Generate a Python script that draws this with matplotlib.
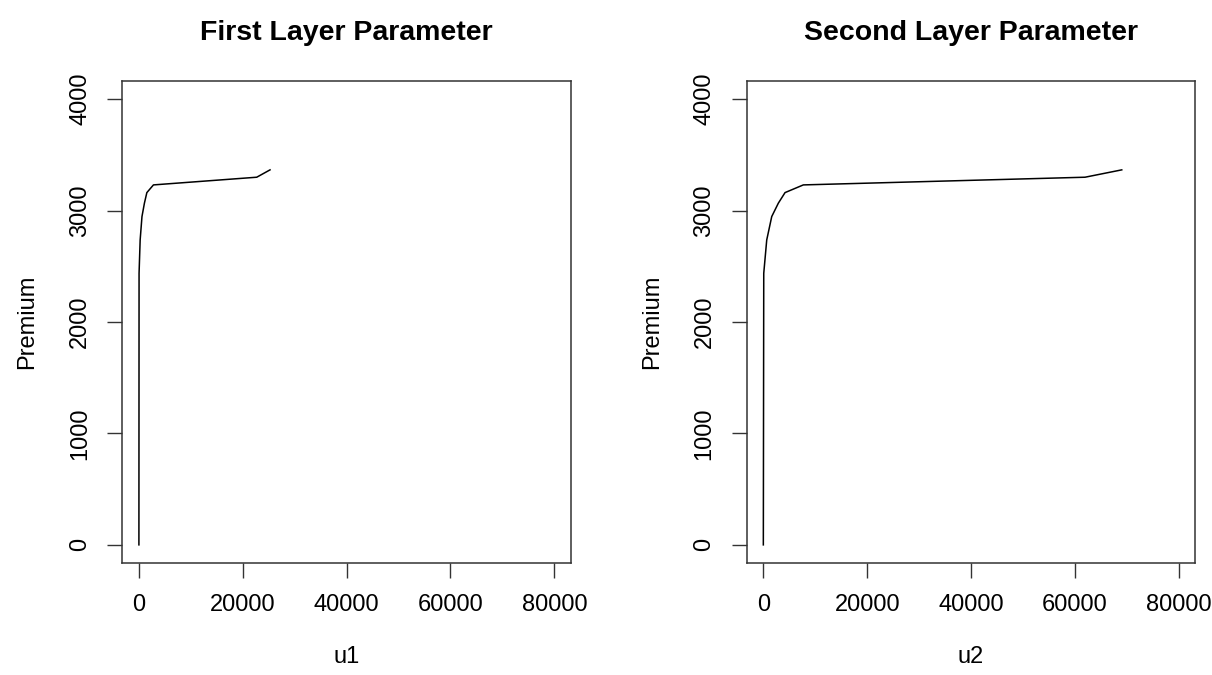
import numpy as np
import matplotlib.pyplot as plt

# premium against the layer parameter
premium = [0, 2437, 2736, 2946, 3066, 3161, 3230, 3299, 3365]
u1 = [0, 30, 240, 590, 1060, 1530, 2800, 22690, 25250]
u2 = [0, 80, 655, 1618, 2889, 4180, 7704, 61950, 69020]

xticks = [0, 20000, 40000, 60000, 80000]
yticks = [0, 1000, 2000, 3000, 4000]

plt.rcParams['font.family'] = ['Liberation Sans', 'DejaVu Sans']
plt.rcParams['font.size'] = 17

fig = plt.figure(figsize=(12.12, 6.75), dpi=100)

paneles = [
    (0.1009, u1, 'u1', 'First Layer Parameter'),
    (0.6161, u2, 'u2', 'Second Layer Parameter'),
]

for izq, u, xlab, titulo in paneles:
    ax = fig.add_axes([izq, 0.1664, 0.3702, 0.7132])
    ax.plot(u, premium, color='black', lw=1.1)
    ax.set_xlim(-3200, 83200)
    ax.set_ylim(-160, 4160)
    ax.set_xticks(xticks)
    ax.set_yticks(yticks)
    ax.set_yticklabels([str(t) for t in yticks], rotation=90, va='center')
    ax.tick_params(length=10.5, width=1, pad=12, color='#333333')
    for s in ax.spines.values():
        s.set_linewidth(1.1)
        s.set_color('#333333')
    ax.set_xlabel(xlab, labelpad=22)
    ax.set_ylabel('Premium', labelpad=22)
    ax.set_title(titulo, fontsize=20.5, fontweight='bold', pad=30)

fig.savefig('out.png', dpi=100)
